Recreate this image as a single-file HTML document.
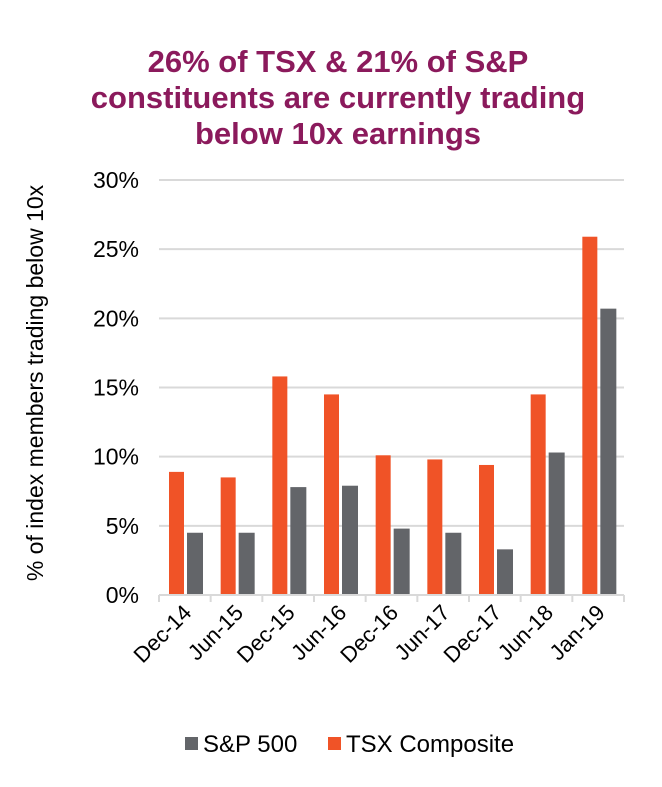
<!DOCTYPE html>
<html><head><meta charset="utf-8"><style>
body{margin:0;background:#fff;font-family:"Liberation Sans",sans-serif;}
svg text{font-family:"Liberation Sans",sans-serif;}
</style></head><body>
<svg width="662" height="782">
<g fill="#8b1a5c" font-weight="bold" font-size="31" text-anchor="middle">
<text x="338" y="72">26% of TSX &amp; 21% of S&amp;P</text>
<text x="338" y="108">constituents are currently trading</text>
<text x="338" y="144">below 10x earnings</text>
</g>
<text transform="translate(43,383) rotate(-90)" text-anchor="middle" font-size="23" fill="#000">% of index members trading  below 10x</text>
<g id="grid"></g><g id="bars"></g><g id="xaxis"></g>
<g font-size="24" fill="#000">
<rect x="185" y="737" width="13" height="13" fill="#636569"/>
<text x="203" y="752">S&amp;P 500</text>
<rect x="328" y="737" width="13" height="13" fill="#f05327"/>
<text x="346" y="752">TSX Composite</text>
</g>
</svg>
<script>
const categories=["Dec-14","Jun-15","Dec-15","Jun-16","Dec-16","Jun-17","Dec-17","Jun-18","Jan-19"];
const tsx=[8.9,8.5,15.8,14.5,10.1,9.8,9.4,14.5,25.9];
const sp500=[4.5,4.5,7.8,7.9,4.8,4.5,3.3,10.3,20.7];
const yTicks=[0,5,10,15,20,25,30];
const NS="http://www.w3.org/2000/svg";
const x0=159,x1=624,y0=595,y1=180,yMax=30;
const cw=(x1-x0)/categories.length;
const y=v=>y0-(v/yMax)*(y0-y1);
function mk(t,a,p){const e=document.createElementNS(NS,t);for(const k in a)e.setAttribute(k,a[k]);p.appendChild(e);return e;}
const grid=document.getElementById('grid'),bars=document.getElementById('bars'),xa=document.getElementById('xaxis');
yTicks.forEach(t=>{
  const l=mk('line',{x1:x0,x2:x1,y1:y(t),y2:y(t),stroke:'#d9d9d9','stroke-width':2},grid);
  
  
  const tx=mk('text',{x:139,y:y(t)+8,'text-anchor':'end','font-size':23,fill:'#000'},grid);
  tx.textContent=t+'%';
  
  
});
categories.forEach((c,i)=>{
  const cx=x0+cw*i;
  const r1=mk('rect',{x:cx+10,y:y(tsx[i]),width:15,height:y0-y(tsx[i]),fill:'#f05327'},bars);
  
  
  const r2=mk('rect',{x:cx+28,y:y(sp500[i]),width:16,height:y0-y(sp500[i]),fill:'#636569'},bars);
  
  
  const tk=mk('line',{x1:cx,x2:cx,y1:y0,y2:y0+7,stroke:'#d9d9d9','stroke-width':2},xa);
  
  
  const lx=cx+cw/2+8,ly=y0+19;
  const t=mk('text',{x:lx,y:ly,'text-anchor':'end','font-size':22,fill:'#000',transform:`rotate(-45 ${lx} ${ly})`},xa);
  t.textContent=c;
  
  
});
const lt=mk('line',{x1:x1,x2:x1,y1:y0,y2:y0+7,stroke:'#d9d9d9','stroke-width':2},xa);


const ax=mk('line',{x1:x0,x2:x1,y1:y0,y2:y0,stroke:'#d9d9d9','stroke-width':2},xa);


</script>
</body></html>
